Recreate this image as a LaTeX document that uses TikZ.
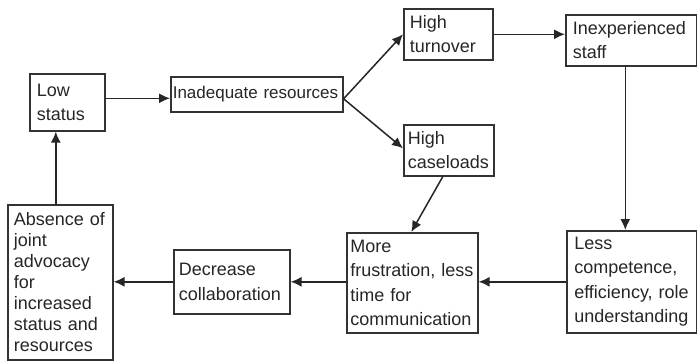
\documentclass[tikz,border=0pt]{standalone}
\usepackage{fontspec}
\setmainfont{Liberation Sans}
\usepackage{tikz}
\usetikzlibrary{arrows.meta, calc}

\tikzset{
  box/.style={draw=black!80, line width=1.6pt, anchor=north west, align=left,
    inner ysep=2pt, text=black!85, font=\fontsize{18}{24.5}\selectfont},
  arr/.style={draw=black!85, line width=1.5pt, -{Latex[length=11pt,width=10pt]}}
}

\begin{document}
\begin{tikzpicture}[x=1pt,y=-1pt]
\useasboundingbox[fill=white] (0,0) rectangle (697,360);
% top row
\node[box, inner xsep=7pt, text width=61pt, minimum height=57pt] (low) at (29,73) {Low\\status};
\node[box, inner xsep=2pt, text width=168pt, minimum height=35pt, font=\fontsize{17}{22}\selectfont] (res) at (170,76) {Inadequate resources};
\node[box, inner xsep=6pt, text width=77pt, minimum height=51pt] (turn) at (403,8) {High\\turnover};
\node[box, inner xsep=4pt, text width=82pt, minimum height=51pt] (case) at (403,124) {High\\caseloads};
\node[box, inner xsep=7pt, text width=117pt, minimum height=51pt] (staff) at (565,14) {Inexperienced\\staff};
% bottom row
\node[box, inner xsep=7.5pt, text width=115pt, minimum height=102pt] (less) at (566,230) {Less\\competence,\\efficiency, role\\understanding};
\node[box, inner xsep=3.5pt, text width=124pt, minimum height=100pt] (more) at (346,232) {More\\frustration, less\\time for\\communication};
\node[box, inner xsep=5pt, text width=106pt, minimum height=64pt] (dec) at (173,249) {Decrease\\collaboration};
\node[box, inner xsep=6pt, text width=93pt, minimum height=155pt, font=\fontsize{18}{21}\selectfont] (abs) at (7,204) {Absence of\\joint\\advocacy\\for\\increased\\status and\\resources};
% connectors
\draw[arr] ([yshift=4pt]low.east) -- ([yshift=4pt]low.east -| res.west);
\draw[arr] ([yshift=-4.5pt]res.east) -- (turn.west);
\draw[arr] ([yshift=-4.5pt]res.east) -- ([yshift=2pt]case.west);
\draw[arr] (turn.east) -- (turn.east -| staff.west);
\draw[arr] ([xshift=-6pt]staff.south) -- ([xshift=-6pt]staff.south |- less.north);
\draw[arr] (less.west) -- (less.west -| more.east);
\draw[arr] ([yshift=1pt]more.west) -- ([yshift=1pt]more.west -| dec.east);
\draw[arr] (dec.west) -- (dec.west -| abs.east);
\draw[arr] ([xshift=-6pt]case.south) -- ([xshift=-1pt]more.north);
\draw[arr] ([xshift=-4.5pt]abs.north) -- ([xshift=-4.5pt]abs.north |- low.south);
\end{tikzpicture}
\end{document}
